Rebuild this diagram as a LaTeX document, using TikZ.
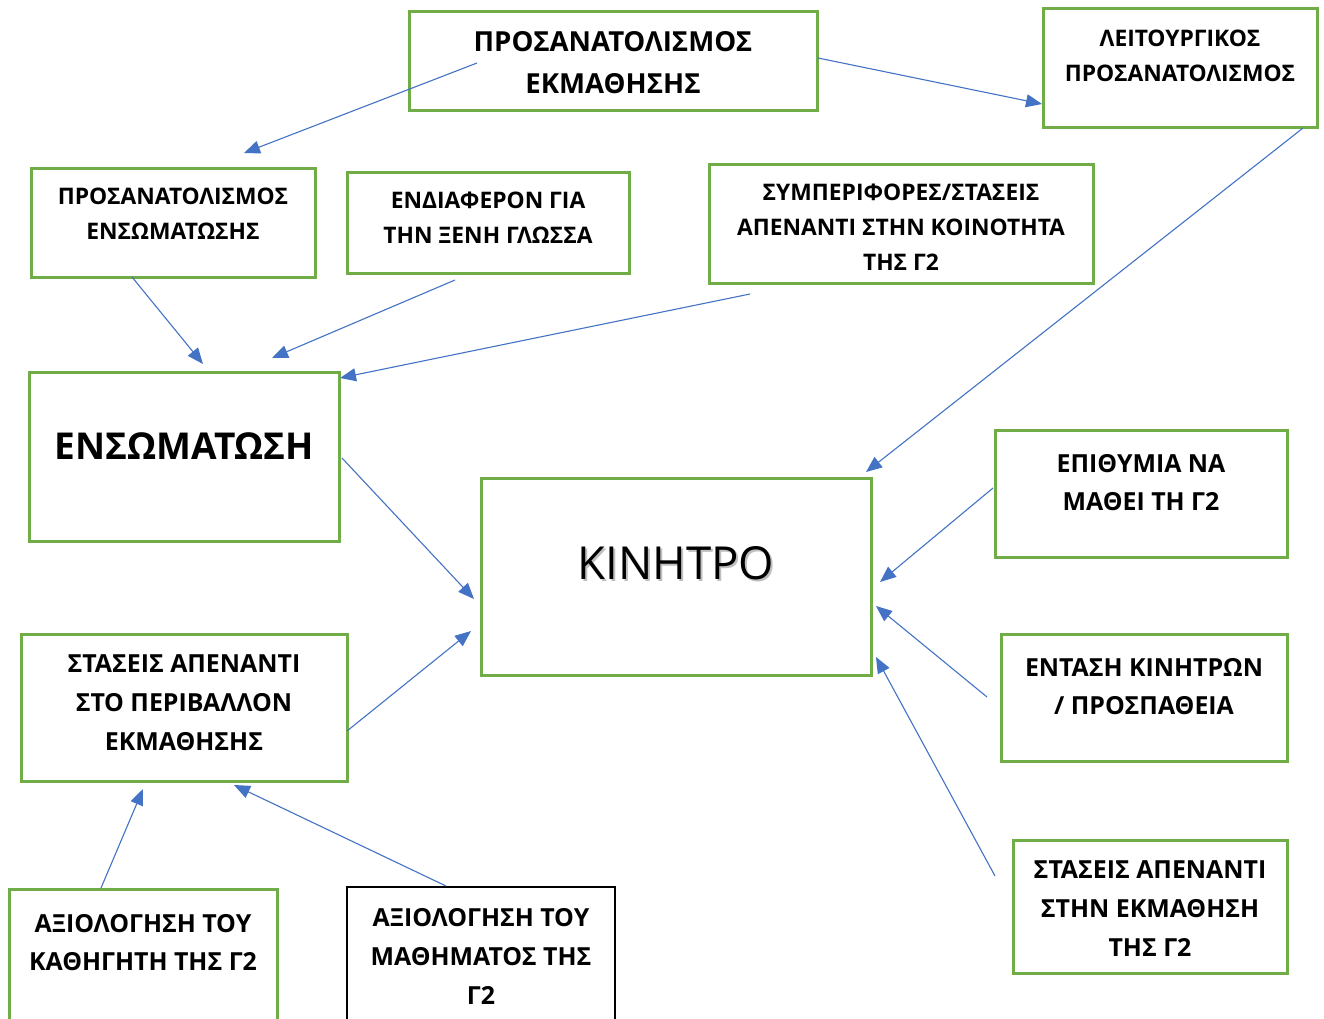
\documentclass[tikz,border=0pt]{standalone}
\usepackage{fontspec}
\setmainfont{Open Sans}
\usetikzlibrary{arrows.meta}
\definecolor{boxgreen}{HTML}{70AD47}
\definecolor{arrblue}{HTML}{4472C4}
\tikzset{
  gbox/.style={draw=boxgreen, line width=3pt, rectangle, inner sep=0pt, fill=white},
  kbox/.style={draw=black, line width=2.2pt, rectangle, inner sep=0pt, fill=white},
  txtS/.style={align=center, inner sep=0pt, font=\bfseries\fontsize{22.8}{35}\selectfont},
  txtM/.style={align=center, inner sep=0pt, font=\bfseries\fontsize{24.9}{38.7}\selectfont},
  txtA/.style={align=center, inner sep=0pt, font=\bfseries\fontsize{27.6}{42}\selectfont},
  txtF/.style={align=center, inner sep=0pt, font=\bfseries\fontsize{37}{40}\selectfont},
  txtG/.style={align=center, inner sep=0pt, font=\fontsize{45.5}{50}\selectfont},
  arr/.style={draw=arrblue, line width=1.1pt, -{Triangle[length=16pt,width=13pt]}},
}
\newcommand{\boxat}[6]{% name, style, x1,y1,x2,y2
  \node[#2, minimum width={#5-#3}, minimum height={#6-#4}] (#1) at ({(#3+#5)/2},{(#4+#6)/2}) {};}
\begin{document}
\begin{tikzpicture}[x=1pt,y=-1pt]
\useasboundingbox (0,0) rectangle (1324,1018);
\fill[white] (0,0) rectangle (1324,1018);
% boxes
\boxat{A}{gbox}{409}{11}{817}{110}
\boxat{B}{gbox}{1043}{8}{1317}{127}
\boxat{C}{gbox}{31}{168}{315}{277}
\boxat{D}{gbox}{347}{172}{629}{273}
\boxat{E}{gbox}{709}{164}{1093}{283}
\boxat{F}{gbox}{29}{372}{339}{541}
\boxat{G}{gbox}{481}{478}{871}{675}
\boxat{H}{gbox}{995}{430}{1287}{557}
\boxat{I}{gbox}{1001}{634}{1287}{761}
\boxat{J}{gbox}{1013}{840}{1287}{973}
\boxat{K}{gbox}{21}{634}{347}{781}
\boxat{L}{gbox}{9}{889}{277}{1030}
\boxat{M}{kbox}{347}{887}{615}{1030}
% texts
\node[txtA] (tA) at (613,63) {ΠΡΟΣΑΝΑΤΟΛΙΣΜΟΣ\\ΕΚΜΑΘΗΣΗΣ};
\node[txtS] (tB) at (1180,56) {ΛΕΙΤΟΥΡΓΙΚΟΣ\\ΠΡΟΣΑΝΑΤΟΛΙΣΜΟΣ};
\node[txtS] (tC) at (173,213.5) {ΠΡΟΣΑΝΑΤΟΛΙΣΜΟΣ\\ΕΝΣΩΜΑΤΩΣΗΣ};
\node[txtS] (tD) at (488,217.5) {ΕΝΔΙΑΦΕΡΟΝ ΓΙΑ\\ΤΗΝ ΞΕΝΗ ΓΛΩΣΣΑ};
\node[txtS] (tE) at (901,227) {ΣΥΜΠΕΡΙΦΟΡΕΣ/ΣΤΑΣΕΙΣ\\ΑΠΕΝΑΝΤΙ ΣΤΗΝ ΚΟΙΝΟΤΗΤΑ\\ΤΗΣ Γ2};
\node[txtF] (tF) at (184,446) {ΕΝΣΩΜΑΤΩΣΗ};
\node[txtG, text=black!25] at (678,565) {ΚΙΝΗΤΡΟ};
\node[txtG] (tG) at (676,563) {ΚΙΝΗΤΡΟ};
\node[txtM] (tH) at (1141,482.5) {ΕΠΙΘΥΜΙΑ ΝΑ\\ΜΑΘΕΙ ΤΗ Γ2};
\node[txtM] (tI) at (1144,686.5) {ΕΝΤΑΣΗ ΚΙΝΗΤΡΩΝ\\/ ΠΡΟΣΠΑΘΕΙΑ};
\node[txtM] (tJ) at (1150,908.5) {ΣΤΑΣΕΙΣ ΑΠΕΝΑΝΤΙ\\ΣΤΗΝ ΕΚΜΑΘΗΣΗ\\ΤΗΣ Γ2};
\node[txtM] (tK) at (184,702.5) {ΣΤΑΣΕΙΣ ΑΠΕΝΑΝΤΙ\\ΣΤΟ ΠΕΡΙΒΑΛΛΟΝ\\ΕΚΜΑΘΗΣΗΣ};
\node[txtM] (tL) at (143,942.5) {ΑΞΙΟΛΟΓΗΣΗ ΤΟΥ\\ΚΑΘΗΓΗΤΗ ΤΗΣ Γ2};
\node[txtM] (tM) at (481,956.5) {ΑΞΙΟΛΟΓΗΣΗ ΤΟΥ\\ΜΑΘΗΜΑΤΟΣ ΤΗΣ\\Γ2};
% connector end points
\coordinate (a1) at (477,63);   \coordinate (c1) at (244,153);
\coordinate (a2) at (818,58);   \coordinate (b1) at (1042,104);
\coordinate (b2) at (1303,128); \coordinate (g1) at (866,472);
\coordinate (c2) at (132,277);  \coordinate (f1) at (203,364);
\coordinate (d2) at (455,280);  \coordinate (f2) at (272,358);
\coordinate (e2) at (750,294);  \coordinate (f3) at (340,378);
\coordinate (f4) at (342,458);  \coordinate (g2) at (474,599);
\coordinate (k2) at (347,731);  \coordinate (g3) at (471,631);
\coordinate (h2) at (993,488);  \coordinate (g4) at (880,582);
\coordinate (i2) at (987,697);  \coordinate (g5) at (876,606);
\coordinate (j2) at (995,876);  \coordinate (g6) at (876,657);
\coordinate (l2) at (101,888);  \coordinate (k1) at (143,789);
\coordinate (m2) at (446,886);  \coordinate (k3) at (234,785);
\draw[arr] (a1) -- (c1);
\draw[arr] (a2) -- (b1);
\draw[arr] (b2) -- (g1);
\draw[arr] (c2) -- (f1);
\draw[arr] (d2) -- (f2);
\draw[arr] (e2) -- (f3);
\draw[arr] (f4) -- (g2);
\draw[arr] (k2) -- (g3);
\draw[arr] (h2) -- (g4);
\draw[arr] (i2) -- (g5);
\draw[arr] (j2) -- (g6);
\draw[arr] (l2) -- (k1);
\draw[arr] (m2) -- (k3);
\end{tikzpicture}
\end{document}
